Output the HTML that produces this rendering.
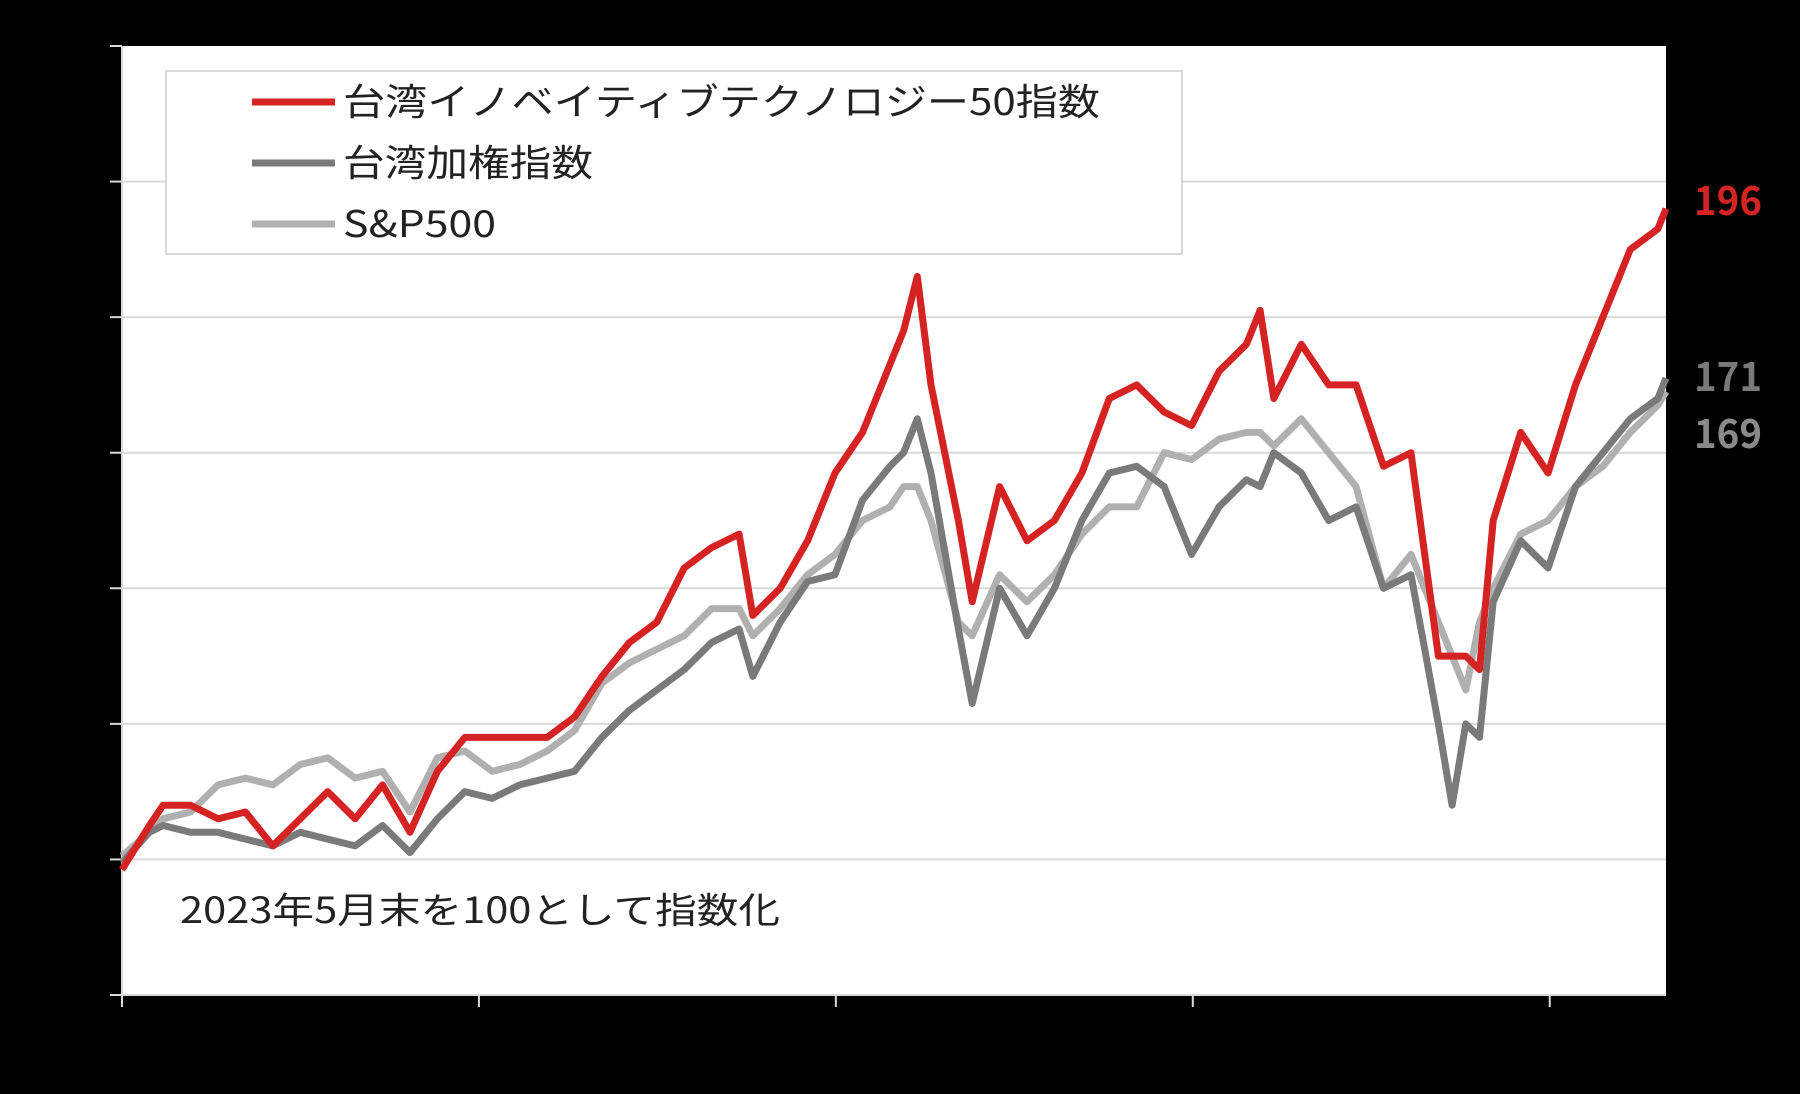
<!DOCTYPE html>
<html><head><meta charset="utf-8">
<style>
html,body{margin:0;padding:0;background:#000;}
svg{display:block;}
text{font-family:"Noto Sans CJK JP","Liberation Sans",sans-serif;}
</style></head>
<body>
<svg id="chart" width="1800" height="1094" viewBox="0 0 1800 1094" xmlns="http://www.w3.org/2000/svg">
<rect x="0" y="0" width="1800" height="1094" fill="#000"/>
<rect x="122" y="46" width="1544" height="949" fill="#fff"/>
<g id="grid"></g>
<g id="axes"></g>
<g id="series"></g>
<g>
<rect x="166" y="71" width="1016" height="183" fill="#fff" stroke="#d9d9d9" stroke-width="2"/>
<line x1="252" y1="102" x2="335" y2="102" stroke="#d42322" stroke-width="7"/>
<text x="343" y="115" font-size="37" fill="#222" textLength="757" lengthAdjust="spacingAndGlyphs">台湾イノベイティブテクノロジー50指数</text>
<line x1="252" y1="163" x2="335" y2="163" stroke="#7a7a7a" stroke-width="7"/>
<text x="343" y="176" font-size="37" fill="#222" textLength="250" lengthAdjust="spacingAndGlyphs">台湾加権指数</text>
<line x1="252" y1="224" x2="335" y2="224" stroke="#b0b0b0" stroke-width="7"/>
<text x="343" y="237" font-size="37" fill="#222" textLength="153" lengthAdjust="spacingAndGlyphs">S&amp;P500</text>
</g>
<text x="180" y="923" font-size="36" fill="#222" textLength="600" lengthAdjust="spacingAndGlyphs">2023年5月末を100として指数化</text>
<text x="1694" y="215" font-size="40" font-weight="bold" fill="#d42322" textLength="68" lengthAdjust="spacingAndGlyphs">196</text>
<text x="1694" y="391" font-size="40" font-weight="bold" fill="#7a7a7a" textLength="68" lengthAdjust="spacingAndGlyphs">171</text>
<text x="1694" y="448" font-size="40" font-weight="bold" fill="#8a8a8a" textLength="68" lengthAdjust="spacingAndGlyphs">169</text>
</svg>
<script>
const weeks = [0,2,3,5,7,9,11,13,15,17,19,21,23,25,27,29,31,33,35,37,39,41,43,45,46,48,50,52,54,56,57,58,59,61,62,64,66,68,70,72,74,76,78,80,82,83,84,86,88,90,92,94,96,97,98,99,100,102,104,106,108,110,112,112.6];
const innovation = [98.5,105,108,108,106,107,102,106,110,106,111,104,113,118,118,118,118,121,127,132,135,143,146,148,136,140,147,157,163,173,178,186,170,150,138,155,147,150,157,168,170,166,164,172,176,181,168,176,170,170,158,160,130,130,130,128,150,163,157,170,180,190,193,196];
const taiex = [99.5,104,105,104,104,103,102,104,103,102,105,101,106,110,109,111,112,113,118,122,125,128,132,134,127,135,141,142,153,158,160,165,157,134,123,140,133,140,150,157,158,155,145,152,156,155,160,157,150,152,140,142,120,108,120,118,138,147,143,155,160,165,168,171];
const sp500 = [100.5,104,106,107,111,112,111,114,115,112,113,107,115,116,113,114,116,119,126,129,131,133,137,137,133,137,142,145,150,152,155,155,150,135,133,142,138,142,148,152,152,160,159,162,163,163,161,165,160,155,140,145,135,130,125,135,140,148,150,155,158,163,167,169];
const yTicks = [80,100,120,140,160,180,200,220];
const xTickWeeks = [0,26.03,52.06,78.09,104.12];

const L=122,R=1666,T=46,B=995, wMax=112.6, vMin=80, vMax=220;
function xs(w){return L+(w/wMax)*(R-L);}
function ys(v){return B-(v-vMin)/(vMax-vMin)*(B-T);}
const NS="http://www.w3.org/2000/svg";
const grid=document.getElementById('grid'), axes=document.getElementById('axes'), sg=document.getElementById('series');
yTicks.forEach(v=>{
  if(v>vMin && v<vMax){
    const g=document.createElementNS(NS,'line');
    g.setAttribute('x1',L);g.setAttribute('x2',R);g.setAttribute('y1',ys(v));g.setAttribute('y2',ys(v));
    g.setAttribute('stroke','#d9d9d9');g.setAttribute('stroke-width','2');
    
    
    grid.appendChild(g);
  }
  const t=document.createElementNS(NS,'line');
  t.setAttribute('x1',L-12);t.setAttribute('x2',L);t.setAttribute('y1',ys(v));t.setAttribute('y2',ys(v));
  t.setAttribute('stroke','#d9d9d9');t.setAttribute('stroke-width','2');
  
  
  axes.appendChild(t);
});
xTickWeeks.forEach((w,i)=>{
  const t=document.createElementNS(NS,'line');
  t.setAttribute('x1',xs(w));t.setAttribute('x2',xs(w));t.setAttribute('y1',B);t.setAttribute('y2',B+12);
  t.setAttribute('stroke','#d9d9d9');t.setAttribute('stroke-width','2');
  
  
  axes.appendChild(t);
});
[[L,T,L,B,'y-axis-line'],[L,B,R,B,'x-axis-line']].forEach(a=>{
  const l=document.createElementNS(NS,'line');
  l.setAttribute('x1',a[0]);l.setAttribute('y1',a[1]);l.setAttribute('x2',a[2]);l.setAttribute('y2',a[3]);
  l.setAttribute('stroke','#d9d9d9');l.setAttribute('stroke-width','2');
  
  
  axes.appendChild(l);
});
function draw(vals,color,name){
  const p=document.createElementNS(NS,'polyline');
  p.setAttribute('points',vals.map((v,i)=>xs(weeks[i]).toFixed(1)+','+ys(v).toFixed(1)).join(' '));
  p.setAttribute('fill','none');p.setAttribute('stroke',color);p.setAttribute('stroke-width','7');
  p.setAttribute('stroke-linejoin','round');
  
  
  sg.appendChild(p);
}
draw(sp500,'#b0b0b0','line-sp500');
draw(taiex,'#7a7a7a','line-taiex');
draw(innovation,'#d42322','line-tw-innovation');
</script>
</body></html>
